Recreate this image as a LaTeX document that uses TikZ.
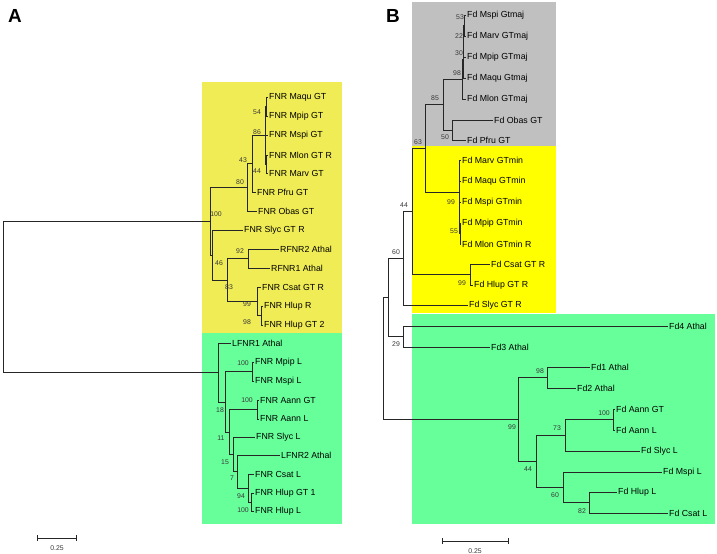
\documentclass[tikz,border=0pt]{standalone}
\usepackage{fontspec}
\setmainfont{Liberation Sans}
\definecolor{boxyellowa}{RGB}{240,236,86}
\definecolor{boxyellowb}{RGB}{255,255,0}
\definecolor{boxgreen}{RGB}{102,255,153}
\definecolor{boxgray}{RGB}{192,192,192}

\begin{document}
\begin{tikzpicture}[x=1bp,y=-1bp,
  branch/.style={line width=0.85bp,draw=black!85},
  taxon/.style={anchor=west,inner sep=1pt,font=\fontsize{8.8}{10}\selectfont},
  boot/.style={inner sep=0pt,text=black!78,font=\fontsize{6.9}{7}\selectfont},
  panel/.style={inner sep=0pt,font=\fontsize{19}{20}\selectfont\bfseries}]
\useasboundingbox (0,0) rectangle (717,554);

% shaded groups
\fill[boxyellowa] (202,82) rectangle (342,333);
\fill[boxgreen] (202,333) rectangle (342,524);
\fill[boxgray] (412,2) rectangle (556,146);
\fill[boxyellowb] (412,146) rectangle (556,313);
\fill[boxgreen] (412,314) rectangle (715,524);

\node[panel] (pa) at (15,16) {A};
\node[panel] (pb) at (393,16) {B};

% panel A, taxa
\node[taxon] (maqu) at (268,97) {FNR Maqu GT};
\node[taxon] (mpip) at (268,116) {FNR Mpip GT};
\node[taxon] (mspi) at (268,135) {FNR Mspi GT};
\node[taxon] (mlon) at (268,155) {FNR Mlon GT R};
\node[taxon] (marv) at (268,173) {FNR Marv GT};
\node[taxon] (pfru) at (256,192) {FNR Pfru GT};
\node[taxon] (obas) at (257,211) {FNR Obas GT};
\node[taxon] (slyc) at (243,230) {FNR Slyc GT R};
\node[taxon] (rfnrb) at (279,249) {RFNR2 Athal};
\node[taxon] (rfnra) at (270,268) {RFNR1 Athal};
\node[taxon] (csat) at (261,287) {FNR Csat GT R};
\node[taxon] (hlupr) at (263,306) {FNR Hlup R};
\node[taxon] (hlupb) at (263,325) {FNR Hlup GT 2};
\node[taxon] (lfnra) at (231,343) {LFNR1 Athal};
\node[taxon] (mpipl) at (254,362) {FNR Mpip L};
\node[taxon] (mspil) at (254,381) {FNR Mspi L};
\node[taxon] (aanngt) at (259,400) {FNR Aann GT};
\node[taxon] (aannl) at (259,419) {FNR Aann L};
\node[taxon] (slycl) at (255,437) {FNR Slyc L};
\node[taxon] (lfnrb) at (280,455) {LFNR2 Athal};
\node[taxon] (csatl) at (254,474) {FNR Csat L};
\node[taxon] (hlupa) at (254,493) {FNR Hlup GT 1};
\node[taxon] (hlupl) at (254,511) {FNR Hlup L};

% panel A, inner nodes
\coordinate (a54) at (266,106.5);
\coordinate (a44) at (266,164);
\coordinate (a86) at (265,135);
\coordinate (a43) at (252,163.5);
\coordinate (a80) at (247,187);
\coordinate (a98) at (261,315.5);
\coordinate (a99) at (257,301);
\coordinate (a92) at (248,258.5);
\coordinate (a83) at (227,280);
\coordinate (a46) at (212,255);
\coordinate (a100) at (210,221);
\coordinate (gh) at (251,502);
\coordinate (g94) at (248,488);
\coordinate (g7) at (237,471.5);
\coordinate (g15) at (233,454);
\coordinate (gaa) at (257,409.5);
\coordinate (g11) at (229,432);
\coordinate (gmm) at (252,371.5);
\coordinate (g18) at (225,402);
\coordinate (g0) at (218,372.5);
\coordinate (aroot) at (3,296.5);

\draw[branch] (a54) |- (maqu.west);
\draw[branch] (a54) |- (mpip.west);
\draw[branch] (a44) |- (mlon.west);
\draw[branch] (a44) |- (marv.west);
\draw[branch] (a86) |- (a54);
\draw[branch] (a86) |- (mspi.west);
\draw[branch] (a86) |- (a44);
\draw[branch] (a43) |- (a86);
\draw[branch] (a43) |- (pfru.west);
\draw[branch] (a80) |- (a43);
\draw[branch] (a80) |- (obas.west);
\draw[branch] (a98) |- (hlupr.west);
\draw[branch] (a98) |- (hlupb.west);
\draw[branch] (a99) |- (csat.west);
\draw[branch] (a99) |- (a98);
\draw[branch] (a92) |- (rfnrb.west);
\draw[branch] (a92) |- (rfnra.west);
\draw[branch] (a83) |- (a92);
\draw[branch] (a83) |- (a99);
\draw[branch] (a46) |- (slyc.west);
\draw[branch] (a46) |- (a83);
\draw[branch] (a100) |- (a80);
\draw[branch] (a100) |- (a46);
\draw[branch] (gh) |- (hlupa.west);
\draw[branch] (gh) |- (hlupl.west);
\draw[branch] (g94) |- (csatl.west);
\draw[branch] (g94) |- (gh);
\draw[branch] (g7) |- (lfnrb.west);
\draw[branch] (g7) |- (g94);
\draw[branch] (g15) |- (slycl.west);
\draw[branch] (g15) |- (g7);
\draw[branch] (gaa) |- (aanngt.west);
\draw[branch] (gaa) |- (aannl.west);
\draw[branch] (g11) |- (gaa);
\draw[branch] (g11) |- (g15);
\draw[branch] (gmm) |- (mpipl.west);
\draw[branch] (gmm) |- (mspil.west);
\draw[branch] (g18) |- (gmm);
\draw[branch] (g18) |- (g11);
\draw[branch] (g0) |- (lfnra.west);
\draw[branch] (g0) |- (g18);
\draw[branch] (aroot) |- (a100);
\draw[branch] (aroot) |- (g0);

% panel A, bootstrap values
\node[boot] (la54) at (257,112) {54};
\node[boot] (la86) at (257,132) {86};
\node[boot] (la43) at (243,160) {43};
\node[boot] (la44) at (257,171) {44};
\node[boot] (la80) at (240,182) {80};
\node[boot] (la100) at (216,214) {100};
\node[boot] (la92) at (240,251) {92};
\node[boot] (la46) at (219,263) {46};
\node[boot] (la83) at (229,287) {83};
\node[boot] (la99) at (247,304) {99};
\node[boot] (la98) at (247,322) {98};
\node[boot] (lg100a) at (243,363) {100};
\node[boot] (lg100b) at (247,400) {100};
\node[boot] (lg18) at (220,410) {18};
\node[boot] (lg11) at (221,438) {11};
\node[boot] (lg15) at (225,462) {15};
\node[boot] (lg7) at (232,478) {7};
\node[boot] (lg94) at (241,496) {94};
\node[boot] (lg100c) at (243,510) {100};

% panel A, scale
\coordinate (sa1) at (37,538);
\coordinate (sa2) at (76,538);
\draw[branch] (sa1) -- (sa2);
\draw[branch] ([yshift=-3bp]sa1) -- ([yshift=3bp]sa1);
\draw[branch] ([yshift=-3bp]sa2) -- ([yshift=3bp]sa2);
\node[boot] (sca) at (57,548) {0.25};

% panel B, taxa
\node[taxon] (bmspi) at (466,15) {Fd Mspi Gtmaj};
\node[taxon] (bmarv) at (466,36) {Fd Marv GTmaj};
\node[taxon] (bmpip) at (466,57) {Fd Mpip GTmaj};
\node[taxon] (bmaqu) at (466,78) {Fd Maqu Gtmaj};
\node[taxon] (bmlon) at (466,99) {Fd Mlon GTmaj};
\node[taxon] (bobas) at (493,120) {Fd Obas GT};
\node[taxon] (bpfru) at (466,140) {Fd Pfru GT};
\node[taxon] (cmarv) at (461,160) {Fd Marv GTmin};
\node[taxon] (cmaqu) at (461,181) {Fd Maqu GTmin};
\node[taxon] (cmspi) at (461,202) {Fd Mspi GTmin};
\node[taxon] (cmpip) at (461,223) {Fd Mpip GTmin};
\node[taxon] (cmlon) at (461,244) {Fd Mlon GTmin R};
\node[taxon] (ccsat) at (490,264) {Fd Csat GT R};
\node[taxon] (chlup) at (473,285) {Fd Hlup GT R};
\node[taxon] (cslyc) at (468,305) {Fd Slyc GT R};
\node[taxon] (dfdd) at (668,326) {Fd4 Athal};
\node[taxon] (dfdc) at (490,347) {Fd3 Athal};
\node[taxon] (dfda) at (590,367) {Fd1 Athal};
\node[taxon] (dfdb) at (576,388) {Fd2 Athal};
\node[taxon] (daanngt) at (615,409) {Fd Aann GT};
\node[taxon] (daannl) at (615,430) {Fd Aann L};
\node[taxon] (dslyc) at (640,451) {Fd Slyc L};
\node[taxon] (dmspi) at (662,472) {Fd Mspi L};
\node[taxon] (dhlup) at (617,492) {Fd Hlup L};
\node[taxon] (dcsat) at (668,513) {Fd Csat L};

% panel B, inner nodes
\coordinate (b53) at (464,25.5);
\coordinate (b22) at (463.5,41);
\coordinate (b30) at (463,59.5);
\coordinate (b98) at (462.5,79);
\coordinate (b50) at (452,130);
\coordinate (b85) at (443,104.5);
\coordinate (c55) at (460,233.5);
\coordinate (c99) at (459.5,218);
\coordinate (cgt) at (459,192);
\coordinate (b63) at (425,148);
\coordinate (c99b) at (470,274.5);
\coordinate (b44) at (412,211);
\coordinate (b60) at (403,258);
\coordinate (d29) at (403,336.5);
\coordinate (bmid) at (388,297);
\coordinate (d98) at (547,377.5);
\coordinate (d100) at (613,419.5);
\coordinate (d73) at (565,435);
\coordinate (d82) at (589,502.5);
\coordinate (d60) at (563,487);
\coordinate (d44) at (536,461);
\coordinate (d99) at (518,419);
\coordinate (broot) at (383,358);

\draw[branch] (b53) |- (bmspi.west);
\draw[branch] (b53) |- (bmarv.west);
\draw[branch] (b22) |- (b53);
\draw[branch] (b22) |- (bmpip.west);
\draw[branch] (b30) |- (b22);
\draw[branch] (b30) |- (bmaqu.west);
\draw[branch] (b98) |- (b30);
\draw[branch] (b98) |- (bmlon.west);
\draw[branch] (b50) |- (bobas.west);
\draw[branch] (b50) |- (bpfru.west);
\draw[branch] (b85) |- (b98);
\draw[branch] (b85) |- (b50);
\draw[branch] (c55) |- (cmpip.west);
\draw[branch] (c55) |- (cmlon.west);
\draw[branch] (c99) |- (cmspi.west);
\draw[branch] (c99) |- (c55);
\draw[branch] (cgt) |- (cmarv.west);
\draw[branch] (cgt) |- (cmaqu.west);
\draw[branch] (cgt) |- (c99);
\draw[branch] (b63) |- (b85);
\draw[branch] (b63) |- (cgt);
\draw[branch] (c99b) |- (ccsat.west);
\draw[branch] (c99b) |- (chlup.west);
\draw[branch] (b44) |- (b63);
\draw[branch] (b44) |- (c99b);
\draw[branch] (b60) |- (b44);
\draw[branch] (b60) |- (cslyc.west);
\draw[branch] (d29) |- (dfdd.west);
\draw[branch] (d29) |- (dfdc.west);
\draw[branch] (bmid) |- (b60);
\draw[branch] (bmid) |- (d29);
\draw[branch] (d98) |- (dfda.west);
\draw[branch] (d98) |- (dfdb.west);
\draw[branch] (d100) |- (daanngt.west);
\draw[branch] (d100) |- (daannl.west);
\draw[branch] (d73) |- (d100);
\draw[branch] (d73) |- (dslyc.west);
\draw[branch] (d82) |- (dhlup.west);
\draw[branch] (d82) |- (dcsat.west);
\draw[branch] (d60) |- (dmspi.west);
\draw[branch] (d60) |- (d82);
\draw[branch] (d44) |- (d73);
\draw[branch] (d44) |- (d60);
\draw[branch] (d99) |- (d98);
\draw[branch] (d99) |- (d44);
\draw[branch] (broot) |- (bmid);
\draw[branch] (broot) |- (d99);

% panel B, bootstrap values
\node[boot] (lb53) at (460,17) {53};
\node[boot] (lb22) at (459,36) {22};
\node[boot] (lb30) at (459,53) {30};
\node[boot] (lb98) at (457,73) {98};
\node[boot] (lb85) at (435,98) {85};
\node[boot] (lb50) at (445,137) {50};
\node[boot] (lb63) at (418,142) {63};
\node[boot] (lc99) at (451,202) {99};
\node[boot] (lc55) at (454,231) {55};
\node[boot] (lb44) at (404,205) {44};
\node[boot] (lb60) at (396,252) {60};
\node[boot] (lc99b) at (462,283) {99};
\node[boot] (ld29) at (396,344) {29};
\node[boot] (ld98) at (540,371) {98};
\node[boot] (ld99) at (512,427) {99};
\node[boot] (ld100) at (604,413) {100};
\node[boot] (ld73) at (557,428) {73};
\node[boot] (ld44) at (528,469) {44};
\node[boot] (ld60) at (555,495) {60};
\node[boot] (ld82) at (582,511) {82};

% panel B, scale
\coordinate (sb1) at (442,541);
\coordinate (sb2) at (508,541);
\draw[branch] (sb1) -- (sb2);
\draw[branch] ([yshift=-3bp]sb1) -- ([yshift=3bp]sb1);
\draw[branch] ([yshift=-3bp]sb2) -- ([yshift=3bp]sb2);
\node[boot] (scb) at (475,551) {0.25};
\end{tikzpicture}
\end{document}
